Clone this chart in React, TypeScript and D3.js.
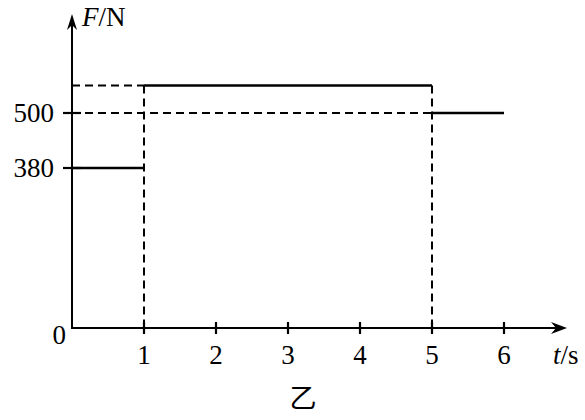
import React from "react";
import * as d3 from "d3";

const xTicks = [1, 2, 3, 4, 5, 6];
const yTicks = [380, 500];
const segStart = [0, 1, 5];
const segEnd = [1, 5, 6];
const segForce = [380, 560, 500];
const xLabel = "t";
const xUnit = "/s";
const yLabel = "F";
const yUnit = "/N";
const caption = "乙";

export default function App() {
  const W = 585, H = 420;
  const x = d3.scaleLinear().domain([0, 6]).range([72, 504]);
  const y = d3.scaleLinear().domain([0, 380, 500]).range([328, 168, 113]);
  const font = "'Liberation Serif', 'Times New Roman', serif";
  const fs = 27;
  const dash = "8,5";
  const x0 = x(0), y0 = y(0);
  const top = y(segForce[1]);
  const segs = segStart.map((s, i) => ({ s, e: segEnd[i], f: segForce[i] }));
  return (
    <svg width={W} height={H} style={{ position: "absolute", left: 0, top: 0, background: "#fff" }}>
      {/* axes */}
      <line x1={x0} y1={y0} x2={564} y2={y0} stroke="#000" strokeWidth={2} />
      <path d={`M${567},${y0} L${551},${y0 - 6} L${556},${y0} L${551},${y0 + 6} Z`} fill="#000" />
      <line x1={x0} y1={y0 + 1} x2={x0} y2={18} stroke="#000" strokeWidth={2} />
      <path d={`M${x0},${14} L${x0 - 5},${30} L${x0},${25} L${x0 + 5},${30} Z`} fill="#000" />

      {/* dashed guides */}
      <line x1={x0} y1={top} x2={x(1)} y2={top} stroke="#000" strokeWidth={2} strokeDasharray={dash} />
      <line x1={x0} y1={y(500)} x2={x(5)} y2={y(500)} stroke="#000" strokeWidth={2} strokeDasharray={dash} />
      <line x1={x(1)} y1={top} x2={x(1)} y2={y0} stroke="#000" strokeWidth={2} strokeDasharray={dash} />
      <line x1={x(5)} y1={top} x2={x(5)} y2={y0} stroke="#000" strokeWidth={2} strokeDasharray={dash} />

      {/* data segments */}
      {segs.map((d, i) => (
        <line key={i} x1={x(d.s)} y1={y(d.f)} x2={x(d.e)} y2={y(d.f)} stroke="#000" strokeWidth={2.6} />
      ))}

      {/* x ticks */}
      {xTicks.map((t) => (
        <g key={t}>
          <line x1={x(t)} y1={y0 - 6} x2={x(t)} y2={y0 + 6} stroke="#000" strokeWidth={2.2} />
          <text x={x(t)} y={y0 + 36} textAnchor="middle" fontFamily={font} fontSize={fs}>{t}</text>
        </g>
      ))}
      {/* y ticks */}
      {yTicks.map((t) => (
        <g key={t}>
          <line x1={x0 - 9} y1={y(t)} x2={x0 + 9} y2={y(t)} stroke="#000" strokeWidth={2.2} />
          <text x={x0 - 18} y={y(t) + 9} textAnchor="end" fontFamily={font} fontSize={fs}>{t}</text>
        </g>
      ))}
      <text x={x0 - 6} y={y0 + 16} textAnchor="end" fontFamily={font} fontSize={fs}>0</text>

      {/* axis labels */}
      <text x={553} y={y0 + 36} fontFamily={font} fontSize={fs}>
        <tspan fontStyle="italic">{xLabel}</tspan>
        <tspan>{xUnit}</tspan>
      </text>
      <text x={x0 + 10} y={26} fontFamily={font} fontSize={fs}>
        <tspan fontStyle="italic">{yLabel}</tspan>
        <tspan>{yUnit}</tspan>
      </text>

      <text x={303} y={408} textAnchor="middle" fontFamily="'Noto Sans CJK SC', sans-serif" fontSize={27}>{caption}</text>
    </svg>
  );
}
